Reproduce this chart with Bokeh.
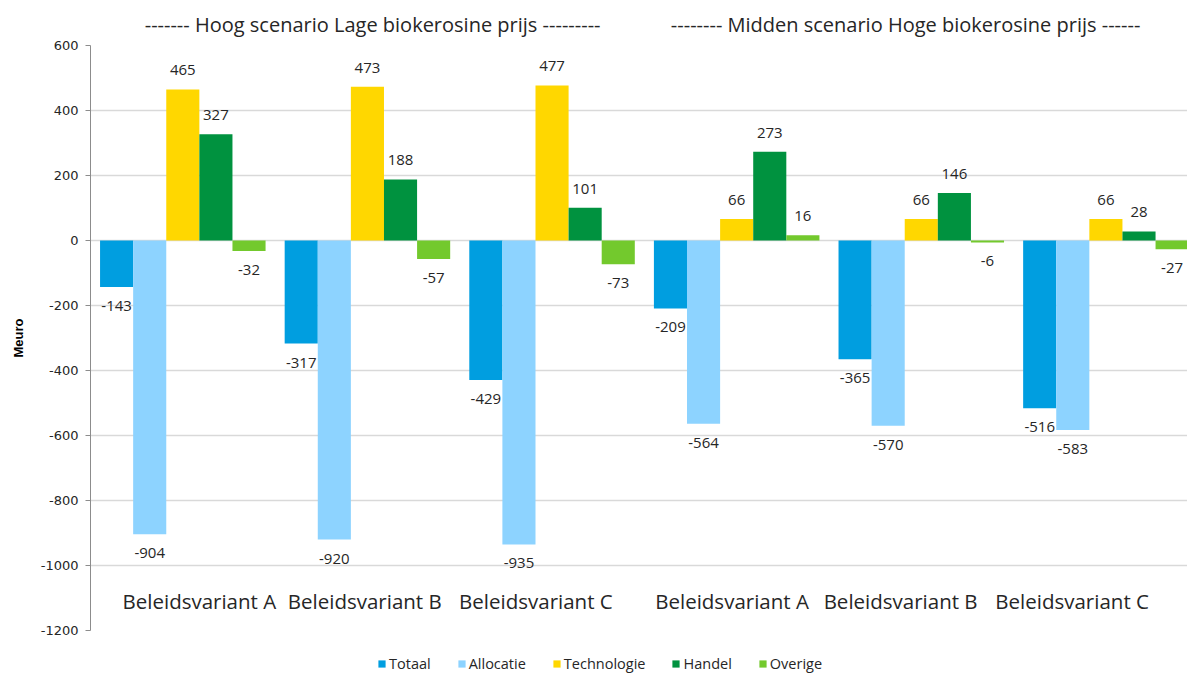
from bokeh.plotting import figure
from bokeh.layouts import column
from bokeh.models import (ColumnDataSource, Legend, LegendItem, FixedTicker,
                          Range1d, PrintfTickFormatter)
from bokeh.embed import file_html
from bokeh.resources import INLINE
from bokeh.core.properties import value

# ---------------- data ----------------
groups = ["Beleidsvariant  A", "Beleidsvariant  B", "Beleidsvariant  C",
          "Beleidsvariant A", "Beleidsvariant B", "Beleidsvariant C"]
series = ["Totaal", "Allocatie", "Technologie", "Handel", "Overige"]
totaal = [-143, -317, -429, -209, -365, -516]
allocatie = [-904, -920, -935, -564, -570, -583]
technologie = [465, 473, 477, 66, 66, 66]
handel = [327, 188, 101, 273, 146, 28]
overige = [-32, -57, -73, 16, -6, -27]
y_ticks = [600, 400, 200, 0, -200, -400, -600, -800, -1000, -1200]
scenario_titles = ["------- Hoog scenario Lage biokerosine prijs ---------",
                   "-------- Midden scenario Hoge biokerosine prijs ------"]

# ---------------- style ----------------
colors = ["#009EE0", "#8DD3FF", "#FFD700", "#00923F", "#73C92D"]
FONT = "Open Sans"
TXT = "#262626"
bar_w = 0.1793
group_label_x = [0.104, 1.0, 1.927, 2.975, 3.888, 4.817]
title_x = [1.028, 3.915]
LEFT = 90
FW = 1097
xr = Range1d(-0.5, 5.442)

values = [totaal, allocatie, technologie, handel, overige]


def strip(h):
    f = figure(frame_width=FW, frame_height=h, x_range=xr, y_range=Range1d(0, 1),
               output_backend="svg", toolbar_location=None,
               x_axis_location=None, y_axis_location=None,
               min_border_left=LEFT, min_border_right=0, min_border_top=0,
               min_border_bottom=0)
    f.outline_line_color = None
    f.grid.visible = False
    return f


# ---- title strip ----
top = strip(37)
tsrc = ColumnDataSource(dict(x=title_x, y=[0.345, 0.345], t=scenario_titles))
top.text(x="x", y="y", text="t", source=tsrc, text_font=value(FONT),
         text_font_size="20px", text_color=TXT, text_align="center",
         text_baseline="middle")

# ---- main chart ----
p = figure(frame_width=FW, frame_height=585,
           x_range=xr, y_range=Range1d(-1200, 600),
           output_backend="svg", toolbar_location=None, x_axis_location=None,
           min_border_left=LEFT, min_border_right=0, min_border_top=8,
           min_border_bottom=10)
p.background_fill_color = "white"
p.border_fill_color = "white"
p.outline_line_color = None
p.xgrid.visible = False
p.ygrid.grid_line_color = "#D9D9D9"
p.ygrid.grid_line_width = 1.5

ax = p.yaxis[0]
ax.ticker = FixedTicker(ticks=y_ticks)
ax.formatter = PrintfTickFormatter(format="%d")
ax.major_label_text_font = "DejaVu Sans"
ax.major_label_text_font_size = "13px"
ax.major_label_text_color = TXT
ax.axis_line_color = "#8C8C8C"
ax.major_tick_line_color = "#8C8C8C"
ax.major_tick_out = 5
ax.major_tick_in = 0
ax.minor_tick_line_color = None
ax.axis_label = "Meuro"
ax.axis_label_text_font = "Liberation Sans"
ax.axis_label_text_font_style = "bold"
ax.axis_label_text_font_size = "13px"
ax.axis_label_text_color = "black"
ax.axis_label_standoff = 12
ax.major_label_standoff = 7

lx, ly, lt, lo = [], [], [], []
for k, (name, vals, col) in enumerate(zip(series, values, colors)):
    xs = [g + (k - 2) * bar_w for g in range(len(groups))]
    src = ColumnDataSource(dict(x=xs, top=vals))
    p.vbar(x="x", top="top", bottom=0, width=bar_w, source=src,
           fill_color=col, line_color=None)
    for x, v in zip(xs, vals):
        lx.append(x)
        ly.append(v)
        lt.append(str(v))
        lo.append(-19 if v >= 0 else 19)

lsrc = ColumnDataSource(dict(x=lx, y=ly, t=lt, o=lo))
p.text(x="x", y="y", text="t", y_offset="o", source=lsrc,
       text_font=value(FONT), text_font_size="15px", text_color=TXT,
       text_align="center", text_baseline="middle")

gsrc = ColumnDataSource(dict(x=group_label_x, y=[-1110] * len(groups), t=groups))
p.text(x="x", y="y", text="t", source=gsrc,
       text_font=value(FONT), text_font_size="20.5px", text_color=TXT,
       text_align="center", text_baseline="middle")

# ---- legend strip (legend swatches use off-screen placeholder renderers) ----
bottom = strip(35)
items = []
for name, col in zip(series, colors):
    r = bottom.vbar(x=[-10], top=[0], width=0.1, fill_color=col, line_color=None)
    items.append(LegendItem(label=name, renderers=[r]))
legend = Legend(items=items, orientation="horizontal", location=(287, 2),
                glyph_width=9, glyph_height=9, label_standoff=3, spacing=26,
                padding=0, margin=0, border_line_color=None,
                background_fill_alpha=0, label_text_font=FONT,
                label_text_font_size="14.5px", label_text_color=TXT,
                label_height=16)
bottom.add_layout(legend, "center")

layout = column(top, p, bottom, spacing=0)
open("out.html", "w").write(file_html(layout, INLINE))
